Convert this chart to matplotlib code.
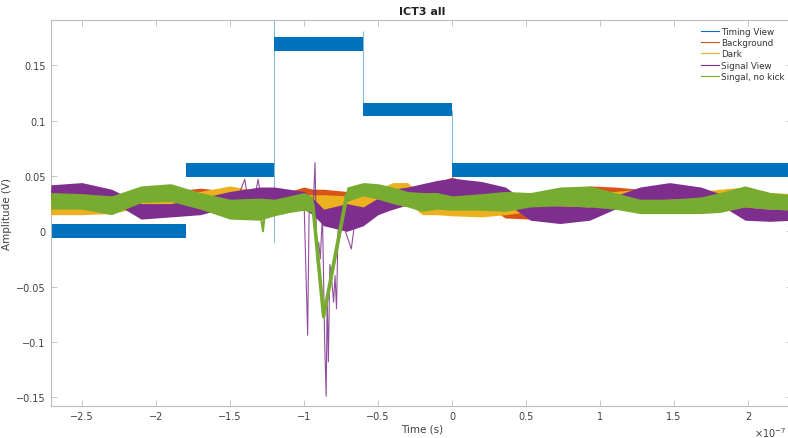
import numpy as np
import matplotlib.pyplot as plt
from matplotlib.lines import Line2D
from matplotlib.ticker import FixedLocator, FuncFormatter

plt.rcParams['font.family'] = ['DejaVu Sans']

# time axis in units of 1e-7 s
T_UNIT = 1e-7

# Timing View: stepped levels (V) between edges
timing_edges = [-2.71, -1.8, -1.2, -0.6, 0.0, 2.30]
timing_level = [0.0000, 0.0557, 0.1695, 0.1100, 0.0557]
timing_halfwidth = 0.0062
# switching transients on the timing trace
timing_spike_t = [-1.2, -0.6, 0.0]
timing_spike_lo = [-0.010, 0.110, 0.050]
timing_spike_hi = [0.195, 0.181, 0.110]

# envelope knots shared by the other four traces
knots_t = [-2.71, -2.5, -2.3, -2.1, -1.9, -1.7, -1.5, -1.3, -1.2, -1.1, -1.0,
           -0.94, -0.867, -0.71, -0.6, -0.5, -0.4, -0.3, -0.2, -0.1, 0.0,
           0.2, 0.36, 0.53, 0.73, 0.93, 1.1, 1.27, 1.47, 1.68, 1.81, 1.98,
           2.15, 2.30]

bg_lo = [0.018, 0.020, 0.018, 0.020, 0.022, 0.024, 0.022, 0.020, 0.020, 0.022, 0.024,
         0.024, 0.026, 0.022, 0.020, 0.018, 0.020, 0.024, 0.028, 0.030, 0.034,
         0.026, 0.012, 0.011, 0.020, 0.028, 0.026, 0.024, 0.022, 0.020, 0.022, 0.022,
         0.020, 0.020]
bg_hi = [0.034, 0.034, 0.032, 0.035, 0.036, 0.039, 0.036, 0.035, 0.034, 0.036, 0.040,
         0.038, 0.038, 0.036, 0.034, 0.030, 0.034, 0.038, 0.042, 0.044, 0.049,
         0.040, 0.028, 0.025, 0.034, 0.041, 0.040, 0.038, 0.035, 0.034, 0.036, 0.036,
         0.034, 0.034]

dark_lo = [0.015, 0.015, 0.016, 0.022, 0.024, 0.022, 0.024, 0.020, 0.020, 0.020, 0.020,
           0.016, 0.011, 0.012, 0.020, 0.022, 0.026, 0.026, 0.015, 0.015, 0.014,
           0.013, 0.015, 0.018, 0.020, 0.022, 0.022, 0.024, 0.022, 0.022, 0.024, 0.026,
           0.022, 0.020]
dark_hi = [0.030, 0.030, 0.030, 0.034, 0.036, 0.036, 0.041, 0.036, 0.034, 0.034, 0.034,
           0.033, 0.033, 0.032, 0.034, 0.038, 0.044, 0.044, 0.032, 0.030, 0.030,
           0.028, 0.030, 0.032, 0.034, 0.036, 0.036, 0.038, 0.036, 0.036, 0.038, 0.040,
           0.035, 0.034]

sig_lo = [0.030, 0.031, 0.027, 0.011, 0.013, 0.015, 0.022, 0.020, 0.022, 0.022, 0.020,
          0.015, 0.005, 0.000, 0.005, 0.015, 0.020, 0.024, 0.028, 0.030, 0.030,
          0.032, 0.026, 0.010, 0.007, 0.010, 0.020, 0.028, 0.029, 0.030, 0.024, 0.010,
          0.009, 0.010]
sig_hi = [0.042, 0.044, 0.038, 0.025, 0.025, 0.030, 0.036, 0.040, 0.040, 0.038, 0.036,
          0.030, 0.020, 0.025, 0.022, 0.030, 0.038, 0.040, 0.043, 0.046, 0.048,
          0.045, 0.040, 0.024, 0.023, 0.022, 0.032, 0.040, 0.044, 0.040, 0.034, 0.022,
          0.020, 0.020]

nokick_lo = [0.020, 0.020, 0.015, 0.026, 0.027, 0.020, 0.011, 0.010, 0.014, 0.017, 0.019,
             0.017, -0.080, 0.027, 0.032, 0.029, 0.025, 0.022, 0.018, 0.020, 0.019,
             0.019, 0.018, 0.022, 0.023, 0.022, 0.020, 0.016, 0.016, 0.016, 0.017, 0.022,
             0.020, 0.019]
nokick_hi = [0.035, 0.034, 0.032, 0.041, 0.043, 0.035, 0.029, 0.030, 0.029, 0.032, 0.035,
             0.031, -0.074, 0.040, 0.044, 0.043, 0.040, 0.036, 0.035, 0.035, 0.032,
             0.034, 0.036, 0.035, 0.040, 0.041, 0.035, 0.029, 0.029, 0.031, 0.035, 0.041,
             0.035, 0.033]

# fast excursions of the Signal View trace (NaN splits separate bursts)
sig_spike_t = [-1.45, -1.42, -1.40, -1.38, -1.33, -1.31, -1.29, np.nan,
               -1.00, -0.975, -0.965, -0.935, -0.925, -0.918, -0.910, -0.900, -0.890,
               -0.875, -0.860, -0.850, -0.843, -0.835, -0.825, -0.815, -0.800, -0.790,
               -0.780, -0.770, -0.750, -0.720, -0.680, -0.660, -0.620]
sig_spike_v = [0.030, 0.040, 0.047, 0.030, 0.032, 0.047, 0.030, np.nan,
               0.030, -0.094, 0.020, 0.030, 0.062, 0.010, -0.028, -0.010, -0.025,
               0.015, -0.100, -0.149, -0.060, -0.118, -0.030, -0.040, -0.064, -0.040,
               -0.070, 0.000, 0.010, 0.000, -0.016, 0.005, 0.015]

# short dropout on the no-kick trace
nokick_spike_t = [-1.30, -1.277, -1.26]
nokick_spike_v = [0.022, 0.000, 0.022]

labels = ['Timing View', 'Background', 'Dark', 'Signal View', 'Singal, no kick']
colors = ['#0072BD', '#D95319', '#EDB120', '#7E2F8E', '#77AC30']
ribbon_lw = [1.2, 1.2, 1.2, 2.6]

fig = plt.figure(figsize=(7.88, 4.39), dpi=100)
ax = fig.add_axes([51 / 788, 1 - 406.5 / 439, (792.4 - 51) / 788, (406.5 - 21) / 439])

t = np.array(knots_t) * T_UNIT

# timing view
edges = np.array(timing_edges) * T_UNIT
lev = np.array(timing_level + [timing_level[-1]])
ax.fill_between(edges, lev - timing_halfwidth, lev + timing_halfwidth,
                step='post', color=colors[0], lw=0, zorder=2)
ax.vlines(np.array(timing_spike_t) * T_UNIT, timing_spike_lo, timing_spike_hi,
          color=colors[0], lw=0.6, alpha=0.6, zorder=2)

bands = [(bg_lo, bg_hi), (dark_lo, dark_hi), (sig_lo, sig_hi), (nokick_lo, nokick_hi)]
for i, (lo, hi) in enumerate(bands):
    lo = np.array(lo)
    hi = np.array(hi)
    ax.fill_between(t, lo, hi, color=colors[i + 1], lw=0, zorder=3 + i)
    ax.plot(t, (lo + hi) / 2, color=colors[i + 1], lw=ribbon_lw[i], zorder=3 + i,
            solid_capstyle='butt')
    if i == 2:
        ax.plot(np.array(sig_spike_t) * T_UNIT, sig_spike_v, color=colors[3],
                lw=0.8, alpha=0.85, zorder=3 + i)
    if i == 3:
        ax.plot(np.array(nokick_spike_t) * T_UNIT, nokick_spike_v, color=colors[4],
                lw=1.5, zorder=3 + i)

ax.set_xlim(-2.709 * T_UNIT, 2.30 * T_UNIT)
ax.set_ylim(-0.1574, 0.1909)

xt = [-2.5, -2, -1.5, -1, -0.5, 0, 0.5, 1, 1.5, 2]
yt = [-0.15, -0.1, -0.05, 0, 0.05, 0.1, 0.15]
ax.xaxis.set_major_locator(FixedLocator(np.array(xt) * T_UNIT))
ax.yaxis.set_major_locator(FixedLocator(yt))
ax.xaxis.set_major_formatter(FuncFormatter(lambda v, p: ('%g' % round(v / T_UNIT, 3)).replace('-', '\u2212')))
ax.yaxis.set_major_formatter(FuncFormatter(lambda v, p: ('%g' % round(v, 3)).replace('-', '\u2212')))

spine_col = '#bcbcbc'
text_col = '#404040'
for s in ax.spines.values():
    s.set_color(spine_col)
    s.set_linewidth(0.8)
ax.tick_params(direction='in', length=4, width=0.6, color=spine_col,
               labelsize=7, labelcolor=text_col, top=True, right=True, pad=4)

ax.set_title('ICT3 all', fontsize=8, fontweight='bold', color='#222222', pad=4)
ax.set_xlabel('Time (s)', fontsize=7.5, color=text_col, labelpad=2)
ax.set_ylabel('Amplitude (V)', fontsize=7.5, color=text_col, labelpad=3)
fig.text(786 / 788, 1 - 433 / 439, r'$\times10^{-7}$', fontsize=7, color=text_col,
         ha='right', va='center')

handles = [Line2D([], [], color=c, lw=0.8) for c in colors]
ax.legend(handles, labels, loc='upper left', bbox_to_anchor=(701 / 788, 1 - 28 / 439),
          bbox_transform=fig.transFigure, frameon=False, fontsize=6.3,
          handlelength=2.0, handletextpad=0.3, labelspacing=0.25, borderpad=0,
          borderaxespad=0, labelcolor='#333333')

fig.savefig('out.png', dpi=100)
